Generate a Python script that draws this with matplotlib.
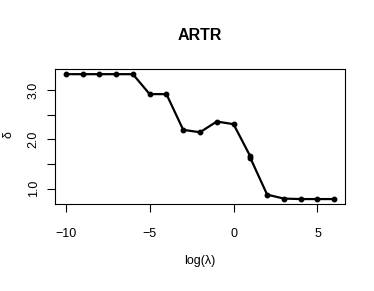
import matplotlib
matplotlib.use("Agg")
import matplotlib.pyplot as plt

plt.rcParams['font.family'] = ['Liberation Sans', 'DejaVu Sans']

log_lambda = [-10, -9, -8, -7, -6, -5, -4, -3, -2, -1, 0, 1, 1, 2, 3, 4, 5, 6]
delta = [3.325, 3.325, 3.325, 3.325, 3.325, 2.92, 2.92, 2.195, 2.146, 2.364, 2.31,
         1.655, 1.625, 0.88, 0.80, 0.79, 0.79, 0.79]
xticks = [-10, -5, 0, 5]
xlabels = ["\u221210", "\u22125", "0", "5"]
yticks = [1.0, 1.5, 2.0, 2.5, 3.0]
ylabels = ["1.0", "", "2.0", "", "3.0"]

fig = plt.figure(figsize=(3.74, 2.91), dpi=100)
ax = fig.add_axes([55/374, 1-204/291, 290/374, 135/291])
ax.plot(log_lambda, delta, color='black', lw=1.6, marker='o', ms=3.2)
ax.set_xlim(-10.64, 6.64)
ax.set_ylim(0.69, 3.43)
ax.set_xticks(xticks)
ax.set_xticklabels(xlabels)
ax.set_yticks(yticks)
ax.set_yticklabels(ylabels, rotation=90, va='center')
ax.tick_params(axis='both', direction='out', length=5.5, width=0.8, labelsize=9)
ax.tick_params(axis='x', pad=11.5)
ax.tick_params(axis='y', pad=5.5)
for s in ax.spines.values():
    s.set_linewidth(0.8)
fig.text(200/374, 1-261/291, "log(\u03bb)", ha='center', va='center', fontsize=9)
fig.text(9/374, 1-135/291, "\u03b4", ha='center', va='center', fontsize=9, rotation=90)
fig.text(200/374, 1-35/291, "ARTR", ha='center', va='center', fontsize=11.5, fontweight='bold')
fig.savefig("out.png", dpi=100)
